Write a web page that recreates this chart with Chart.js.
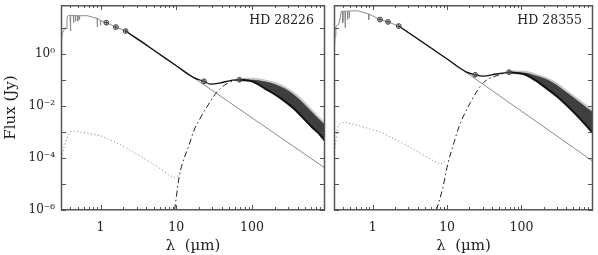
<!DOCTYPE html>
<html>
<head>
<meta charset="utf-8">
<script src="https://cdn.jsdelivr.net/npm/chart.js@4.4.1/dist/chart.umd.min.js"></script>
<style>
  html, body { margin: 0; padding: 0; background: #fff; }
  #wrap { position: relative; width: 598px; height: 255px; overflow: hidden; }
  canvas { position: absolute; top: 0; }
  #cL { left: 0; }
  #cR { left: 329px; }
</style>
</head>
<body>
<div id="wrap">
  <canvas id="cL" width="330" height="255"></canvas>
  <canvas id="cR" width="269" height="255"></canvas>
</div>
<script>
// ---------------- data (wavelength in micron, flux in Jy) ----------------
const panelNames = ['HD 28226', 'HD 28355'];

const xTickValues = [1, 10, 100];
const xTickLabels = ['1', '10', '100'];
const yTickValues = [1e-6, 1e-4, 1e-2, 1];
const yTickLabels = ['10\u207B\u2076', '10\u207B\u2074', '10\u207B\u00B2', '10\u2070'];

// HD 28226 (left)
const starL_lambda = [0.302, 0.306, 0.312, 0.32, 0.33, 0.345, 0.352, 0.36, 0.372, 0.385, 0.395, 0.400, 0.402, 0.405, 0.435, 0.44, 0.445, 0.462, 0.467, 0.472, 0.495, 0.50, 0.505, 0.52, 0.526, 0.532, 0.67, 0.82, 0.90, 0.905, 0.91, 0.995, 1.0, 1.005, 1.19, 1.59, 2.14, 3.67, 5, 10, 20, 50, 100, 200, 500, 920];
const starL_flux   = [1.0, 3.5, 6.3, 6.8, 8.3, 10.0, 8.9, 25, 28.8, 29.5, 29.5, 29.5, 7.4, 29.5, 29.5, 15.5, 29.5, 29.5, 17.8, 29.2, 29, 17.8, 29, 28.8, 20.4, 28.5, 28.8, 24, 22.9, 10.5, 22.5, 19, 12.6, 18.6, 15.5, 10.5, 7.4, 2.8, 1.38, 0.345, 0.0863, 0.0138, 0.00345, 8.6e-4, 1.38e-4, 4.08e-5];
const dotL_lambda  = [0.302, 0.336, 0.39, 0.453, 0.674, 1.0, 1.83, 3.33, 5.47, 8.16, 9.48, 11.0];
const dotL_flux    = [1.0e-4, 3.2e-4, 1.0e-3, 1.07e-3, 8.7e-4, 7.1e-4, 3.2e-4, 1.17e-4, 4.9e-5, 2.1e-5, 1.8e-5, 2.1e-5];
const dustL_lambda = [9.5, 11.0, 14.8, 17.2, 20.0, 24.4, 34.6, 46.7, 66, 80];
const dustL_flux   = [1.0e-6, 2.1e-5, 3.2e-4, 1.17e-3, 2.8e-3, 7.6e-3, 0.034, 0.071, 0.10, 0.105];
const totL_lambda  = [2.14, 5, 10, 17, 23.2, 28.3, 38.2, 51.5, 68];
const totL_flux    = [7.4, 1.38, 0.345, 0.12, 0.087, 0.068, 0.076, 0.093, 0.10];
const bandL_lambda = [68, 100, 150, 210, 280, 380, 460, 620, 760, 920];
const bandL_low    = [0.1, 0.087, 0.0447, 0.0251, 0.0138, 0.0066, 0.0037, 0.00151, 0.00087, 0.00045];
const bandL_high   = [0.1, 0.1, 0.085, 0.0646, 0.0437, 0.0234, 0.0141, 0.00575, 0.00316, 0.0019];
const photL_lambda = [1.19, 1.59, 2.14, 23.2, 68];
const photL_flux   = [15.5, 10.5, 7.4, 0.087, 0.10];

// HD 28355 (right)
const starR_lambda = [0.302, 0.31, 0.318, 0.324, 0.346, 0.36, 0.376, 0.39, 0.394, 0.398, 0.42, 0.424, 0.428, 0.455, 0.458, 0.462, 0.478, 0.482, 0.487, 0.618, 0.87, 0.88, 0.89, 1.25, 1.6, 2.23, 4.58, 10, 20, 50, 100, 200, 500, 920];
const starR_flux   = [1.0, 5, 10.5, 11.5, 13.2, 20, 41.7, 42, 15.5, 42, 43, 10, 43, 43.6, 20.4, 43.6, 43.6, 23.4, 43.6, 44.7, 34, 20.4, 33, 20.4, 16.6, 11.5, 3.0, 0.622, 0.1555, 0.0249, 0.00622, 0.00156, 2.49e-4, 7.35e-5];
const dotR_lambda  = [0.307, 0.34, 0.415, 0.618, 1.25, 2.77, 5.06, 7.9, 9.7];
const dotR_flux    = [2.4e-4, 1.78e-3, 2.4e-3, 1.78e-3, 1.0e-3, 3.2e-4, 1.17e-4, 5.75e-5, 7.6e-5];
const dustR_lambda = [7.19, 8.8, 10.2, 12.5, 14.5, 20.6, 30.6, 50.6, 68];
const dustR_flux   = [1.0e-6, 7.6e-6, 5.75e-5, 4.3e-4, 1.6e-3, 0.0135, 0.076, 0.155, 0.19];
const totR_lambda  = [2.23, 10, 18, 23.9, 30.6, 45.8, 68];
const totR_flux    = [11.5, 0.622, 0.2, 0.155, 0.138, 0.166, 0.195];
const bandR_lambda = [68, 113, 160, 227, 310, 414, 617, 920];
const bandR_low    = [0.195, 0.155, 0.089, 0.0427, 0.0214, 0.01, 0.00316, 8.9e-4];
const bandR_high   = [0.195, 0.186, 0.141, 0.1, 0.059, 0.0316, 0.0135, 0.0056];
const photR_lambda = [1.25, 1.6, 2.23, 23.9, 68];
const photR_flux   = [20.4, 16.6, 11.5, 0.155, 0.195];

const X_MIN = 0.3, X_MAX = 920, Y_MIN = 1e-6, Y_MAX = 74;

// ---------------- helpers ----------------
const pts = (xs, ys) => xs.map((x, i) => ({ x: x, y: ys[i] }));
const FONT = "'DejaVu Serif', 'Liberation Serif', serif";
const TXT = '#222';

const frameTicks = {
  id: 'frameTicks',
  afterDatasetsDraw(chart) {
    const { ctx, chartArea: a, scales: { x, y } } = chart;
    ctx.save();
    ctx.strokeStyle = '#555';
    ctx.lineWidth = 1;
    ctx.beginPath();
    for (let d = 0.1; d <= 1000; d *= 10) {
      for (let m = 1; m <= 9; m++) {
        const v = d * m;
        if (v < X_MIN || v > X_MAX) continue;
        const px = Math.round(x.getPixelForValue(v)) + 0.5;
        const len = m === 1 ? 5 : 3;
        ctx.moveTo(px, a.bottom); ctx.lineTo(px, a.bottom - len);
        ctx.moveTo(px, a.top); ctx.lineTo(px, a.top + len);
      }
    }
    for (let e = -6; e <= 1; e++) {
      const v = Math.pow(10, e);
      const py = Math.round(y.getPixelForValue(v)) + 0.5;
      ctx.moveTo(a.left, py); ctx.lineTo(a.left + 5, py);
      ctx.moveTo(a.right, py); ctx.lineTo(a.right - 5, py);
    }
    ctx.stroke();
    ctx.lineWidth = 1.5;
    ctx.strokeStyle = '#555';
    ctx.strokeRect(a.left + 0.5, a.top + 0.75, a.right - a.left - 1, a.bottom - a.top - 1);
    // panel name
    ctx.fillStyle = TXT;
    ctx.font = '12.5px ' + FONT;
    ctx.textAlign = 'right';
    ctx.textBaseline = 'alphabetic';
    ctx.fillText(chart.options.plugins.panelName, a.right - 11, 24);
    ctx.restore();
  }
};

function makeChart(id, side) {
  const L = side === 'L';
  const star = L ? pts(starL_lambda, starL_flux) : pts(starR_lambda, starR_flux);
  const dot  = L ? pts(dotL_lambda, dotL_flux) : pts(dotR_lambda, dotR_flux);
  const dust = L ? pts(dustL_lambda, dustL_flux) : pts(dustR_lambda, dustR_flux);
  const tot  = L ? pts(totL_lambda, totL_flux) : pts(totR_lambda, totR_flux);
  const bLow = L ? pts(bandL_lambda, bandL_low) : pts(bandR_lambda, bandR_low);
  const bHigh= L ? pts(bandL_lambda, bandL_high) : pts(bandR_lambda, bandR_high);
  const phot = L ? pts(photL_lambda, photL_flux) : pts(photR_lambda, photR_flux);

  const base = { showLine: true, pointRadius: 0, tension: 0, fill: false };
  return new Chart(document.getElementById(id), {
    type: 'line',
    data: {
      datasets: [
        Object.assign({}, base, { data: phot, showLine: false, pointRadius: 2.4, pointStyle: 'circle', borderColor: '#444', backgroundColor: 'rgba(255,255,255,0)', pointBorderWidth: 1, order: 0 }),
        Object.assign({}, base, { data: phot, showLine: false, pointRadius: 2.4, pointStyle: 'cross', borderColor: '#444', pointBorderWidth: 1, order: 0 }),
        Object.assign({}, base, { data: tot, borderColor: '#111', borderWidth: 1.3, cubicInterpolationMode: 'monotone', order: 1 }),
        Object.assign({}, base, { data: bLow, borderColor: '#111', borderWidth: 2, cubicInterpolationMode: 'monotone', order: 2 }),
        Object.assign({}, base, { data: bHigh, borderColor: 'rgba(70,70,70,0.3)', borderWidth: 4, cubicInterpolationMode: 'monotone', fill: { target: 3 }, backgroundColor: '#3f3f3f', order: 3 }),
        Object.assign({}, base, { data: star, borderColor: '#8a8a8a', borderWidth: 1, order: 4 }),
        Object.assign({}, base, { data: dust, borderColor: '#222', borderWidth: 1, borderDash: [6, 3, 1.5, 3], cubicInterpolationMode: 'monotone', order: 5 }),
        Object.assign({}, base, { data: dot, borderColor: '#777', borderWidth: 1, borderDash: [1, 2.5], order: 6 })
      ]
    },
    options: {
      responsive: false,
      animation: false,
      devicePixelRatio: 1,
      layout: { padding: { left: 0, right: L ? 0 : 1, top: 0, bottom: 0 } },
      plugins: { legend: { display: false }, tooltip: { enabled: false }, title: { display: false }, panelName: L ? panelNames[0] : panelNames[1] },
      elements: { line: { borderCapStyle: 'butt' } },
      scales: {
        x: {
          type: 'logarithmic', min: X_MIN, max: X_MAX, position: 'bottom',
          grid: { display: false, drawTicks: false }, border: { display: false },
          afterBuildTicks: s => { s.ticks = xTickValues.map(v => ({ value: v })); },
          afterFit: s => { s.height = 45; s.paddingLeft = 0; s.paddingRight = 0; },
          ticks: { padding: 10, color: TXT, font: { family: FONT, size: 12.5 }, maxRotation: 0, autoSkip: false,
            callback: v => { const i = xTickValues.indexOf(v); return i >= 0 ? xTickLabels[i] : ''; } },
          title: { display: true, text: '\u03BB  (\u00B5m)', color: TXT, font: { family: FONT, size: 15 }, padding: { top: 0, bottom: 0 } }
        },
        y: {
          type: 'logarithmic', min: Y_MIN, max: Y_MAX, position: 'left', display: L,
          grid: { display: false, drawTicks: false }, border: { display: false },
          afterBuildTicks: s => { s.ticks = yTickValues.map(v => ({ value: v })); },
          afterFit: s => { if (L) s.width = 61; s.paddingTop = 0; s.paddingBottom = 0; },
          ticks: { padding: 6, color: TXT, font: { family: FONT, size: 12 }, autoSkip: false,
            callback: v => { const i = yTickValues.indexOf(v); return i >= 0 ? yTickLabels[i] : ''; } },
          title: { display: true, text: 'Flux (Jy)', color: TXT, font: { family: FONT, size: 15 }, padding: { top: 2, bottom: 0 } }
        }
      }
    },
    plugins: [frameTicks]
  });
}

makeChart('cL', 'L');
makeChart('cR', 'R');
</script>
</body>
</html>
